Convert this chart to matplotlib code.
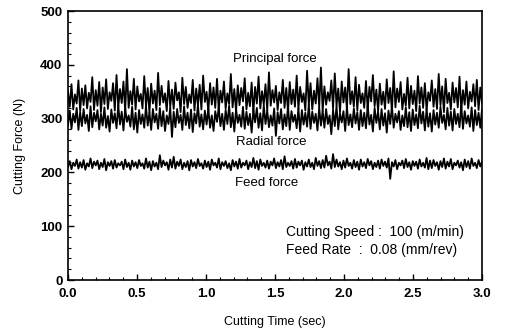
import numpy as np
import matplotlib
matplotlib.use('Agg')
import matplotlib.pyplot as plt
from matplotlib.ticker import MultipleLocator

plt.rcParams['font.family'] = ['Liberation Sans', 'DejaVu Sans']

# force signals (N), 240 samples over 3 s
principal = [
    350, 322, 364, 317, 345, 328, 371, 314, 356, 325,
    362, 319, 348, 331, 377, 316, 353, 324, 368, 312,
    358, 327, 373, 318, 349, 333, 366, 315, 381, 321,
    355, 329, 369, 313, 392, 320, 351, 326, 374, 317,
    360, 332, 346, 319, 379, 323, 357, 311, 365, 328,
    352, 316, 385, 325, 361, 330, 347, 314, 370, 322,
    354, 318, 367, 334, 349, 312, 376, 327, 359, 320,
    345, 329, 372, 315, 356, 324, 363, 317, 380, 331,
    350, 313, 366, 326, 358, 320, 374, 316, 352, 330,
    369, 318, 347, 327, 383, 321, 355, 314, 362, 325,
    357, 332, 375, 317, 348, 323, 367, 311, 359, 328,
    378, 319, 351, 326, 364, 315, 386, 324, 353, 330,
    361, 316, 349, 329, 372, 320, 357, 313, 368, 327,
    354, 322, 380, 318, 359, 331, 347, 315, 389, 325,
    366, 317, 352, 328, 375, 321, 395, 314, 360, 326,
    349, 333, 371, 319, 384, 324, 356, 312, 369, 330,
    358, 318, 392, 327, 351, 322, 377, 315, 363, 329,
    347, 320, 370, 316, 359, 332, 381, 323, 354, 314,
    365, 326, 350, 318, 373, 329, 357, 313, 388, 321,
    356, 331, 368, 317, 346, 324, 376, 319, 361, 327,
    352, 314, 379, 328, 358, 320, 366, 316, 349, 333,
    371, 322, 355, 318, 383, 325, 360, 312, 374, 329,
    348, 317, 367, 330, 357, 321, 378, 315, 353, 326,
    369, 319, 350, 332, 364, 323, 372, 316, 358, 328,
]
radial = [
    288, 315, 281, 309, 293, 320, 279, 312, 286, 318,
    291, 307, 277, 323, 284, 311, 295, 316, 280, 309,
    287, 321, 283, 305, 276, 317, 292, 310, 282, 325,
    289, 313, 278, 319, 294, 306, 285, 322, 280, 311,
    274, 316, 290, 308, 283, 324, 287, 312, 279, 318,
    293, 309, 281, 320, 286, 314, 277, 306, 290, 321,
    266, 313, 284, 318, 292, 307, 279, 323, 288, 311,
    282, 317, 275, 310, 291, 326, 285, 308, 280, 315,
    289, 319, 283, 306, 277, 314, 294, 321, 286, 309,
    279, 316, 290, 324, 284, 311, 276, 318, 292, 307,
    285, 322, 281, 313, 288, 309, 274, 317, 293, 320,
    283, 310, 278, 325, 290, 315, 284, 306, 287, 319,
    268, 312, 291, 318, 280, 308, 286, 323, 279, 314,
    294, 307, 282, 320, 276, 316, 289, 311, 285, 326,
    281, 313, 292, 309, 278, 321, 287, 315, 283, 318,
    290, 306, 271, 317, 286, 324, 280, 310, 293, 314,
    277, 322, 288, 308, 284, 319, 291, 312, 279, 316,
    286, 311, 282, 325, 289, 307, 276, 320, 292, 313,
    280, 318, 287, 310, 274, 315, 290, 323, 283, 309,
    293, 314, 279, 306, 286, 321, 284, 312, 277, 317,
    288, 308, 282, 324, 291, 313, 278, 319, 285, 310,
    276, 316, 289, 311, 283, 322, 292, 307, 280, 320,
    287, 313, 278, 318, 290, 309, 284, 325, 281, 314,
    291, 306, 285, 321, 277, 316, 288, 311, 283, 318,
]
feed = [
    210, 221, 206, 218, 212, 224, 207, 219, 209, 223,
    205, 217, 211, 226, 208, 220, 213, 222, 206, 218,
    210, 225, 204, 219, 212, 221, 207, 223, 209, 217,
    213, 220, 206, 224, 210, 218, 205, 222, 211, 219,
    208, 223, 212, 217, 207, 226, 209, 220, 204, 221,
    211, 218, 206, 232, 210, 222, 213, 219, 205, 224,
    209, 229, 207, 220, 212, 224, 206, 218, 210, 221,
    204, 223, 211, 219, 208, 225, 212, 217, 207, 222,
    210, 220, 205, 224, 213, 218, 209, 226, 206, 219,
    212, 221, 208, 217, 204, 223, 211, 220, 207, 225,
    209, 218, 213, 222, 206, 219, 210, 227, 208, 221,
    205, 224, 212, 218, 209, 222, 207, 220, 213, 226,
    208, 219, 211, 223, 206, 230, 210, 218, 212, 221,
    207, 225, 209, 220, 213, 222, 205, 219, 211, 224,
    210, 218, 206, 227, 212, 221, 208, 223, 209, 231,
    213, 220, 207, 234, 210, 224, 211, 219, 206, 222,
    209, 226, 212, 218, 207, 223, 210, 220, 205, 224,
    211, 219, 208, 225, 213, 221, 206, 218, 210, 222,
    207, 224, 212, 220, 209, 226, 188, 219, 211, 223,
    206, 218, 213, 222, 208, 225, 210, 219, 205, 221,
    212, 220, 207, 224, 211, 218, 209, 227, 206, 222,
    208, 223, 212, 219, 205, 221, 210, 226, 207, 220,
    211, 225, 206, 218, 213, 222, 209, 219, 204, 224,
    210, 221, 207, 226, 212, 218, 208, 223, 211, 220,
]
t_end = 3.0
time = np.linspace(0, t_end, len(principal))

fig = plt.figure(figsize=(5.05, 3.30), dpi=100)
ax = fig.add_axes([0.1347, 0.1515, 0.8198, 0.815])

for sig in (principal, radial, feed):
    ax.plot(time, sig, color='black', lw=1.3)

ax.set_xlim(0, 3.0)
ax.set_ylim(0, 500)
ax.xaxis.set_major_locator(MultipleLocator(0.5))
ax.xaxis.set_minor_locator(MultipleLocator(0.1))
ax.yaxis.set_major_locator(MultipleLocator(100))
ax.yaxis.set_minor_locator(MultipleLocator(20))
ax.xaxis.set_major_formatter(plt.FuncFormatter(lambda v, p: f'{v:.1f}'))
ax.tick_params(which='both', direction='in', top=False, right=False)
ax.tick_params(which='major', length=4, width=1.0, labelsize=9.5)
ax.tick_params(axis='x', which='major', pad=6)
ax.tick_params(axis='y', which='major', pad=4)
ax.tick_params(which='minor', length=2.5, width=0.8)
for lab in ax.get_xticklabels() + ax.get_yticklabels():
    lab.set_fontweight('bold')
for s in ax.spines.values():
    s.set_linewidth(1.2)

ax.set_xlabel('Cutting Time (sec)', fontsize=9, labelpad=11)
ax.set_ylabel('Cutting Force (N)', fontsize=9, labelpad=10)

# curve labels
ax.text(1.50, 410, 'Principal force', fontsize=9.5, ha='center', va='center')
ax.text(1.47, 256, 'Radial force', fontsize=9.5, ha='center', va='center')
ax.text(1.44, 180, 'Feed force', fontsize=9.5, ha='center', va='center')

ax.text(1.58, 89, 'Cutting Speed :  100 (m/min)', fontsize=10, ha='left', va='center')
ax.text(1.58, 56, 'Feed Rate  :  0.08 (mm/rev)', fontsize=10, ha='left', va='center')

fig.savefig('out.png', dpi=100)
